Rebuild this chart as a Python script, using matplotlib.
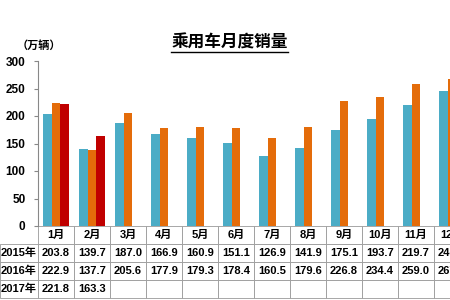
import matplotlib.pyplot as plt
import numpy as np

plt.rcParams['font.family'] = ['Liberation Sans', 'Noto Sans CJK SC', 'DejaVu Sans']
plt.rcParams['font.weight'] = 'bold'

months = ["1月", "2月", "3月", "4月", "5月", "6月", "7月", "8月", "9月", "10月", "11月", "12月"]
years = ["2015年", "2016年", "2017年"]
sales_2015 = [203.8, 139.7, 187.0, 166.9, 160.9, 151.1, 126.9, 141.9, 175.1, 193.7, 219.7, 244.6]
sales_2016 = [222.9, 137.7, 205.6, 177.9, 179.3, 178.4, 160.5, 179.6, 226.8, 234.4, 259.0, 267.5]
sales_2017 = [221.8, 163.3]
colors = ["#4BACC6", "#E46C0A", "#C00000"]

fig = plt.figure(figsize=(4.5, 3), dpi=100)
ax = fig.add_axes([38 / 450, 1 - 226 / 300, 432 / 450, 165 / 300])

x = np.arange(len(months))
w = 0.24
series = [sales_2015, sales_2016, sales_2017]
for i, vals in enumerate(series):
    ax.bar(x[:len(vals)] + (i - 1) * w, vals, w, color=colors[i], linewidth=0)

ax.set_xlim(-0.5, len(months) - 0.5)
ax.set_ylim(0, 300)
ax.set_yticks(range(0, 301, 50))
ax.tick_params(axis='y', labelsize=8.5, length=3, color='#888888', pad=6)
ax.set_xticks([])
for s in ['top', 'right', 'bottom']:
    ax.spines[s].set_visible(False)
ax.spines['left'].set_color('#888888')
ax.spines['left'].set_linewidth(0.8)

# data table under the bars
def fmt(vals):
    return [f"{v:.1f}" for v in vals] + [""] * (len(months) - len(vals))

cell_text = [[""] + months]
for yr, vals in zip(years, series):
    cell_text.append([yr] + fmt(vals))

lead = 38 / 432
tab = ax.table(cellText=cell_text, cellLoc='center',
               colWidths=[38] + [36] * len(months),
               bbox=[-lead, -72 / 165, 1 + lead, 72 / 165])
tab.auto_set_font_size(False)
tab.set_fontsize(8)
for (r, c), cell in tab.get_celld().items():
    cell.set_edgecolor('#999999')
    cell.set_linewidth(0.6)
    cell.PAD = 0.02
    cell.get_text().set_fontweight('bold')
    if r == 0 and c == 0:
        cell.visible_edges = ''

fig.text(0.51, 0.857, "乘用车月度销量", ha='center', va='center', fontsize=12, fontweight='bold')
fig.text(0.087, 0.847, "（万辆）", ha='center', va='center', fontsize=8, fontweight='bold')

# underline the title
fig.canvas.draw()
title = fig.texts[0]
bb = title.get_window_extent().transformed(fig.transFigure.inverted())
fig.add_artist(plt.Line2D([bb.x0, bb.x1], [bb.y0 - 0.005, bb.y0 - 0.005],
                          transform=fig.transFigure, color='black', linewidth=1))

fig.savefig("out.png", dpi=100)
